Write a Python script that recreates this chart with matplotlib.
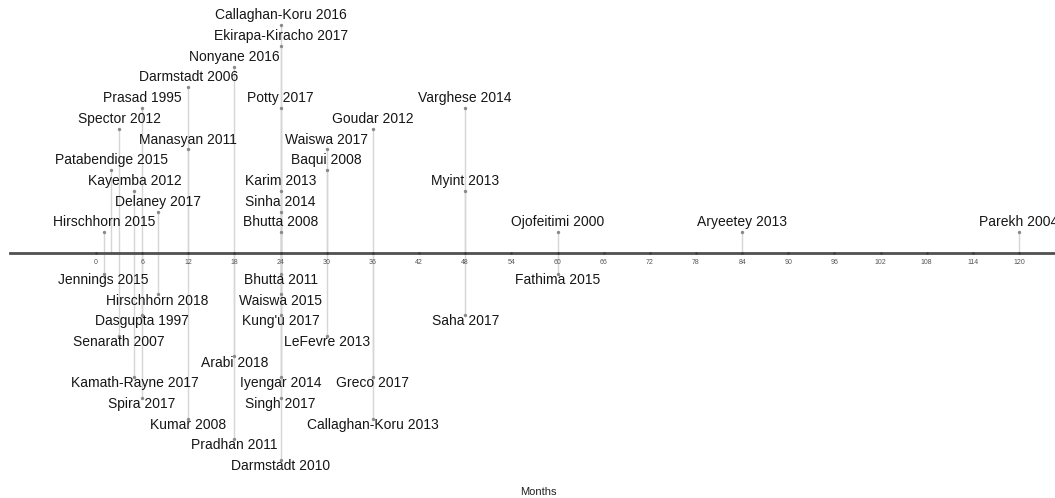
import matplotlib
matplotlib.use("Agg")
import matplotlib.pyplot as plt

plt.rcParams["font.family"] = ["Liberation Sans", "DejaVu Sans"]

# Studies placed above the axis: label, month, stack level
above_labels = [
    "Hirschhorn 2015", "Delaney 2017", "Kayemba 2012", "Patabendige 2015",
    "Manasyan 2011", "Spector 2012", "Prasad 1995", "Darmstadt 2006",
    "Nonyane 2016", "Ekirapa-Kiracho 2017", "Callaghan-Koru 2016",
    "Bhutta 2008", "Sinha 2014", "Karim 2013", "Baqui 2008", "Waiswa 2017",
    "Goudar 2012", "Potty 2017", "Varghese 2014", "Myint 2013",
    "Ojofeitimi 2000", "Aryeetey 2013", "Parekh 2004",
]
above_months = [1, 8, 5, 2, 12, 3, 6, 12, 18, 24, 24,
                24, 24, 24, 30, 30, 36, 24, 48, 48, 60, 84, 120]
above_levels = [1, 2, 3, 4, 5, 6, 7, 8, 9, 10, 11,
                1, 2, 3, 4, 5, 6, 7, 7, 3, 1, 1, 1]

# Studies placed below the axis
below_labels = [
    "Jennings 2015", "Bhutta 2011", "Fathima 2015", "Hirschhorn 2018",
    "Waiswa 2015", "Dasgupta 1997", "Kung'u 2017", "Saha 2017",
    "Senarath 2007", "LeFevre 2013", "Arabi 2018", "Kamath-Rayne 2017",
    "Iyengar 2014", "Greco 2017", "Spira 2017", "Singh 2017",
    "Kumar 2008", "Callaghan-Koru 2013", "Pradhan 2011", "Darmstadt 2010",
]
below_months = [1, 24, 60, 8, 24, 6, 24, 48, 3, 30, 18, 5,
                24, 36, 6, 24, 12, 36, 18, 24]
below_levels = [1, 1, 1, 2, 2, 3, 3, 3, 4, 4, 5, 6,
                6, 6, 7, 7, 8, 8, 9, 10]

tick_months = list(range(0, 121, 6))


def main():
    fig = plt.figure(figsize=(10.55, 4.98), dpi=100)
    ax = fig.add_axes([0, 0, 1, 1])
    ax.set_xlim(-12.48, 124.67)
    ax.set_ylim(-11.84, 12.22)
    ax.set_axis_off()

    stem_col = "#d6d6d6"
    dot_col = "#8a8a8a"
    txt_col = "#161616"

    # stems first so they sit under everything else
    for m, lv in zip(above_months, above_levels):
        ax.plot([m, m], [0, lv], color=stem_col, lw=1.0, zorder=1)
    for m, lv in zip(below_months, below_levels):
        ax.plot([m, m], [0, -lv], color=stem_col, lw=1.0, zorder=1)

    # main axis line
    ax.plot([-11.2, 126], [0, 0], color="#505050", lw=2.0, zorder=2)

    ax.scatter(above_months, above_levels, s=6, color=dot_col, zorder=3, linewidths=0)
    ax.scatter(below_months, [-lv for lv in below_levels],
               s=6, color=dot_col, zorder=3, linewidths=0)

    for lab, m, lv in zip(above_labels, above_months, above_levels):
        ax.text(m, lv + 0.48, lab, ha="center", va="center",
                fontsize=10, color=txt_col, zorder=4)
    for lab, m, lv in zip(below_labels, below_months, below_levels):
        ax.text(m, -lv - 0.3, lab, ha="center", va="center",
                fontsize=10, color=txt_col, zorder=4)

    # month ticks and labels
    ax.scatter(tick_months, [0] * len(tick_months), s=4, color="#404040",
               zorder=3, linewidths=0)
    for m in tick_months:
        ax.text(m, -0.45, str(m), ha="center", va="center",
                fontsize=5, color="#555555")

    ax.text(57.5, -11.55, "Months", ha="center", va="center",
            fontsize=8, color="#222222")

    fig.savefig("out.png", dpi=100)


if __name__ == "__main__":
    main()
